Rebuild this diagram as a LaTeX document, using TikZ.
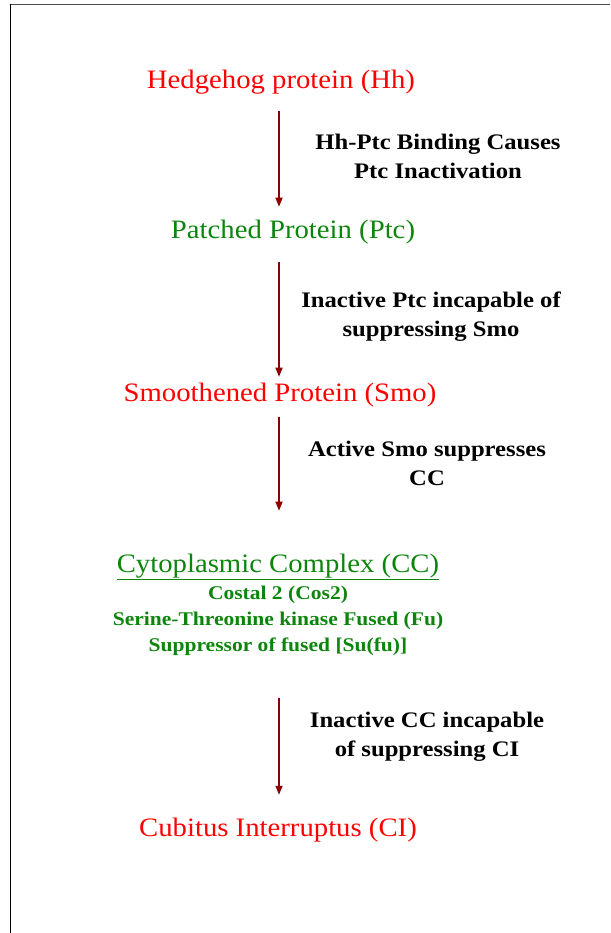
\documentclass[tikz,border=0pt]{standalone}
\usepackage{fontspec}
\setmainfont{Liberation Serif}
\newfontfamily\widefont[FakeStretch=1.08]{Liberation Serif}
\newfontfamily\wideboldfont[FakeStretch=1.11]{Liberation Serif Bold}
\usetikzlibrary{arrows.meta}
\definecolor{stepred}{rgb}{1, 0, 0}
\definecolor{stepgreen}{rgb}{0.05, 0.52, 0.05}
\definecolor{arrowcolor}{rgb}{0.55, 0.0, 0.0}
\tikzset{
	protein/.style = {inner sep=0pt, font=\widefont\fontsize{26.6}{30}\selectfont},
	effect/.style = {inner sep=0pt, align=center, font=\wideboldfont\fontsize{22.2}{29}\selectfont},
	members/.style = {inner sep=0pt, align=center, text=stepgreen, font=\wideboldfont\fontsize{19.4}{26}\selectfont},
	flow/.style = {-{Triangle[width=7pt, length=9pt]}, line width=1.4pt, color=arrowcolor}
}
\begin{document}
\begin{tikzpicture}[x=1pt, y=-1pt]
	\useasboundingbox (0,0) rectangle (610,933);
	\draw [line width=1.4pt, color=black!70] (9.5,4.5) -- (610,4.5);
	\draw [line width=1pt] (10.5,4) -- (10.5,933);
	\coordinate (axis) at (279,0);
	% pathway
	\node[protein, text=stepred] (hh) at (281,82) {Hedgehog protein (Hh)};
	\node[protein, text=stepgreen] (ptc) at (293,232) {Patched Protein (Ptc)};
	\node[protein, text=stepred] (smo) at (280,395) {Smoothened Protein (Smo)};
	\node[protein, text=stepgreen] (cc) at (278,567) {\underline{Cytoplasmic Complex (CC)}};
	\node[members] (cclist) at (278,621) {Costal 2 (Cos2)\\Serine-Threonine kinase Fused (Fu)\\Suppressor of fused [Su(fu)]};
	\node[protein, text=stepred] (ci) at (278,830) {Cubitus Interruptus (CI)};
	% explanations
	\node[effect] (why1) at (438,156) {Hh-Ptc Binding Causes\\Ptc Inactivation};
	\node[effect] (why2) at (431,317) {Inactive Ptc incapable of\\suppressing Smo};
	\node[effect] (why3) at (427,463) {Active Smo suppresses\\CC};
	\node[effect] (why4) at (427,737) {Inactive CC incapable\\of suppressing CI};
	\draw[flow, shorten <=17pt, shorten >=13pt] (hh.south -| axis) -- (ptc.north -| axis);
	\draw[flow, shorten <=18pt, shorten >=6pt] (ptc.south -| axis) -- (smo.north -| axis);
	\draw[flow, shorten <=10pt, shorten >=43pt] (smo.south -| axis) -- (cc.north -| axis);
	\draw[flow, shorten <=42pt, shorten >=23pt] (cclist.south -| axis) -- (ci.north -| axis);
\end{tikzpicture}
\end{document}
